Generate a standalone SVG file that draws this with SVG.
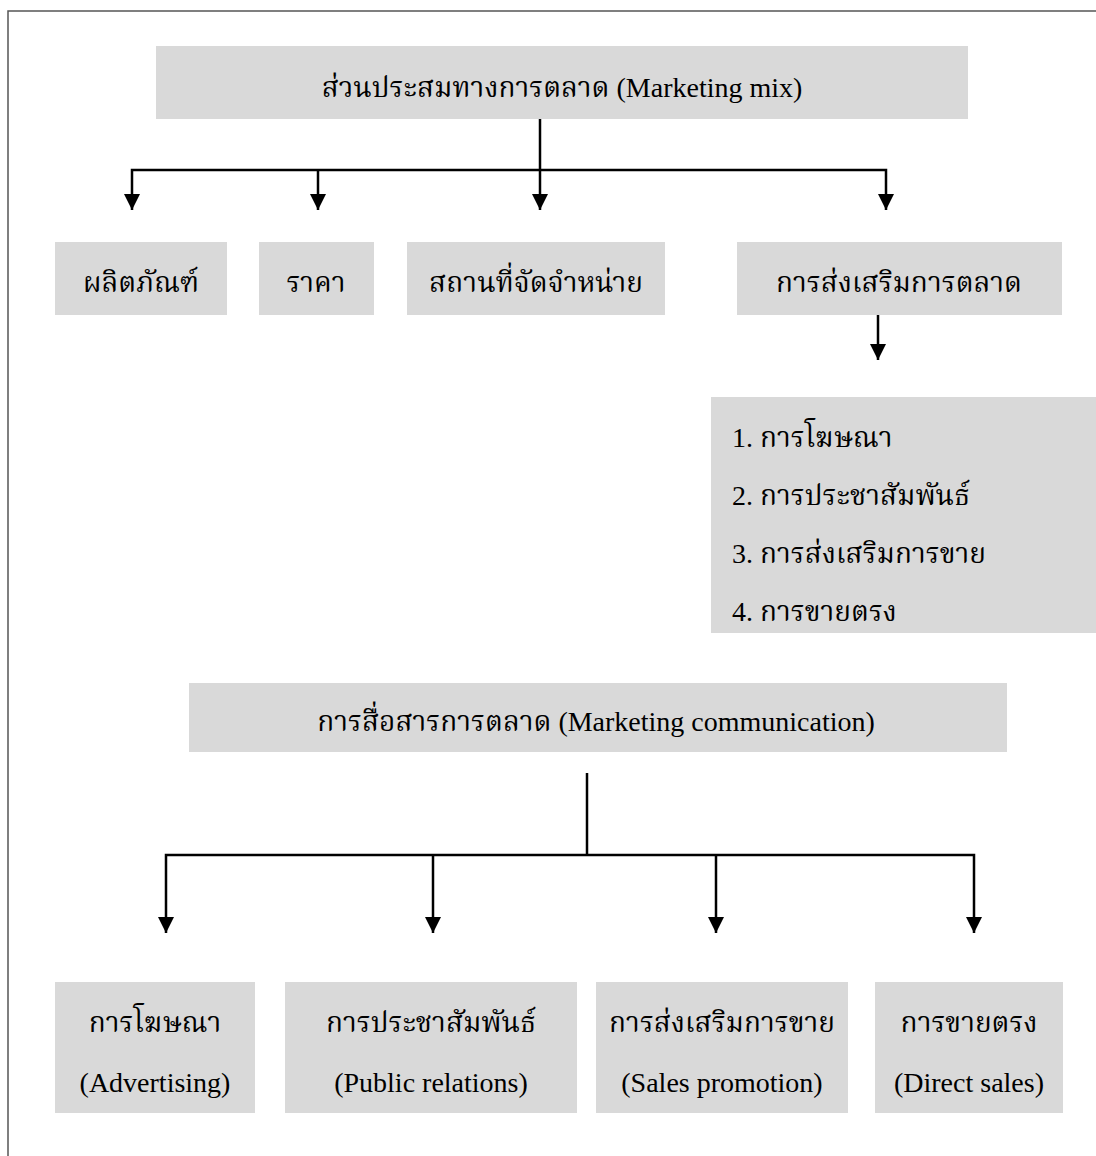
<svg xmlns="http://www.w3.org/2000/svg" width="1096" height="1156" viewBox="0 0 1096 1156">
  <style>
    .box { fill: #d9d9d9; }
    .t { font-family: "Liberation Serif", "Noto Serif Thai", "Noto Sans Thai", "DejaVu Serif", serif; font-size: 28px; fill: #000; }
    .c { text-anchor: middle; }
    .wire { fill: none; stroke: #000; stroke-width: 2.5; }
    .frame { fill: none; stroke: #555; stroke-width: 1.5; }
  </style>
  <defs>
    <!-- filled triangle pointing along the path direction -->
    <marker id="arrow" viewBox="0 0 16 16" refX="16" refY="8" markerWidth="16" markerHeight="16" markerUnits="userSpaceOnUse" orient="auto-start-reverse">
      <path d="M0,0 L16,8 L0,16 Z" fill="#000"/>
    </marker>
  </defs>

  <rect width="1096" height="1156" fill="#fff"/>
  <!-- page frame (open on the right and bottom) -->
  <path class="frame" d="M8,1156 V11 H1096"/>

  <g id="marketing-mix">
    <rect class="box" x="156" y="46" width="812" height="73"/>
    <text class="t c" x="562" y="97">ส่วนประสมทางการตลาด (Marketing mix)</text>
  </g>

  <g id="product">
    <rect class="box" x="55" y="242" width="172" height="73"/>
    <text class="t c" x="141" y="292">ผลิตภัณฑ์</text>
  </g>
  <g id="price">
    <rect class="box" x="259" y="242" width="115" height="73"/>
    <text class="t c" x="316" y="292">ราคา</text>
  </g>
  <g id="place">
    <rect class="box" x="407" y="242" width="258" height="73"/>
    <text class="t c" x="536" y="292">สถานที่จัดจำหน่าย</text>
  </g>
  <g id="promotion">
    <rect class="box" x="737" y="242" width="325" height="73"/>
    <text class="t c" x="899" y="292">การส่งเสริมการตลาด</text>
  </g>

  <g id="promotion-list">
    <rect class="box" x="711" y="397" width="390" height="236"/>
    <text class="t" x="732" y="447">1. การโฆษณา</text>
    <text class="t" x="732" y="505">2. การประชาสัมพันธ์</text>
    <text class="t" x="732" y="563">3. การส่งเสริมการขาย</text>
    <text class="t" x="732" y="621">4. การขายตรง</text>
  </g>

  <g id="marketing-communication">
    <rect class="box" x="189" y="683" width="818" height="69"/>
    <text class="t c" x="596" y="731">การสื่อสารการตลาด (Marketing communication)</text>
  </g>

  <g id="advertising">
    <rect class="box" x="55" y="982" width="200" height="131"/>
    <text class="t c" x="155" y="1032">การโฆษณา</text>
    <text class="t c" x="155" y="1092">(Advertising)</text>
  </g>
  <g id="public-relations">
    <rect class="box" x="285" y="982" width="292" height="131"/>
    <text class="t c" x="431" y="1032">การประชาสัมพันธ์</text>
    <text class="t c" x="431" y="1092">(Public relations)</text>
  </g>
  <g id="sales-promotion">
    <rect class="box" x="596" y="982" width="252" height="131"/>
    <text class="t c" x="722" y="1032">การส่งเสริมการขาย</text>
    <text class="t c" x="722" y="1092">(Sales promotion)</text>
  </g>
  <g id="direct-sales">
    <rect class="box" x="875" y="982" width="188" height="131"/>
    <text class="t c" x="969" y="1032">การขายตรง</text>
    <text class="t c" x="969" y="1092">(Direct sales)</text>
  </g>

  <g id="connectors">
    <!-- marketing mix branches -->
    <path class="wire" d="M540,119 V210" marker-end="url(#arrow)"/>
    <path class="wire" d="M132,210 V170 H886 V210" marker-start="url(#arrow)" marker-end="url(#arrow)"/>
    <path class="wire" d="M318,170 V210" marker-end="url(#arrow)"/>
    <!-- promotion to its tools -->
    <path class="wire" d="M878,315 V360" marker-end="url(#arrow)"/>
    <!-- communication branches -->
    <path class="wire" d="M587,773 V855"/>
    <path class="wire" d="M166,933 V855 H974 V933" marker-start="url(#arrow)" marker-end="url(#arrow)"/>
    <path class="wire" d="M433,855 V933" marker-end="url(#arrow)"/>
    <path class="wire" d="M716,855 V933" marker-end="url(#arrow)"/>
  </g>
</svg>
